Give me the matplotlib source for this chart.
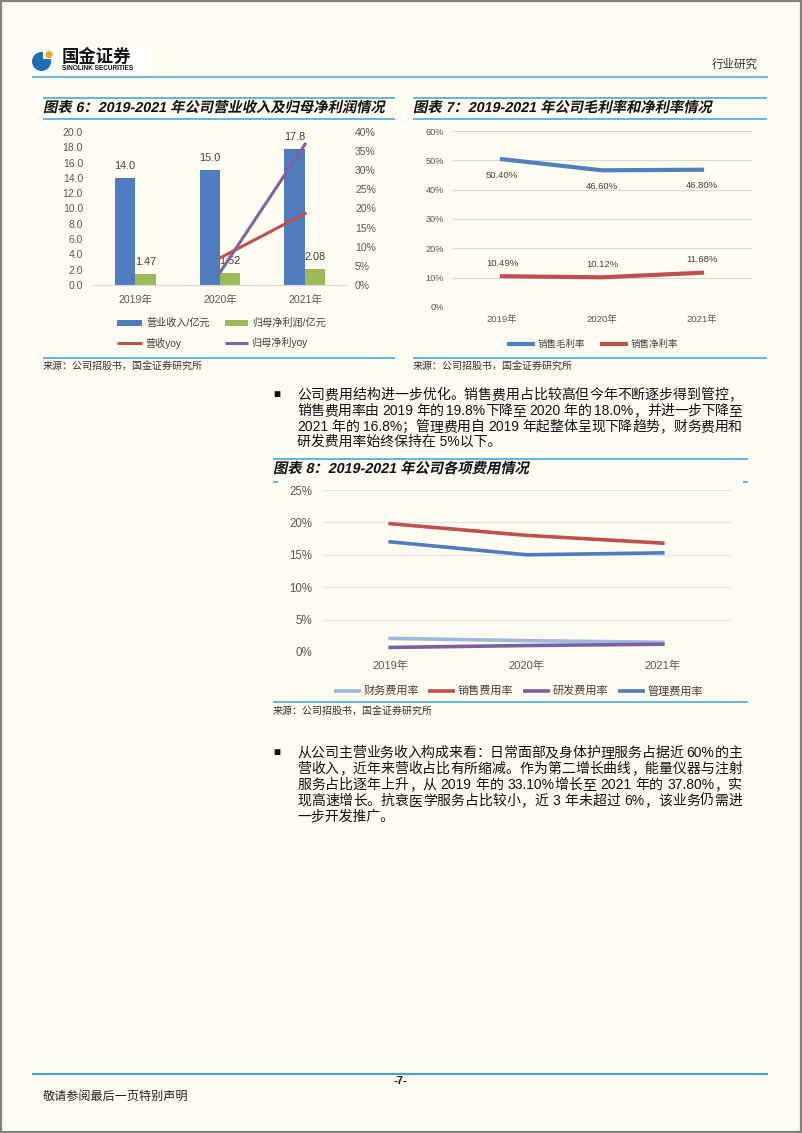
import re
import matplotlib
matplotlib.use('Agg')
import matplotlib.pyplot as plt
import numpy as np
from matplotlib.patches import Rectangle, Circle, PathPatch
from matplotlib.textpath import TextPath
from matplotlib.font_manager import FontProperties
from matplotlib.transforms import Affine2D

plt.rcParams['font.family'] = ['Liberation Sans', 'Noto Sans CJK SC']

W, H = 802, 1133
BG = '#FEFBF0'
BLUE = '#4F7CBE'
GREEN = '#9BBB59'
RED = '#C0504D'
PURPLE = '#7F63A1'
LIGHTBLUE = '#9DB7DD'
RULE = '#55B0DC'
TICK = '#595959'

# ---- data ----
years = ['2019年', '2020年', '2021年']
revenue = [14.0, 15.0, 17.8]          # 营业收入/亿元
net_profit = [1.47, 1.52, 2.08]       # 归母净利润/亿元
yoy_years = [1, 2]                    # 2020, 2021
revenue_yoy = [7.1, 18.7]             # %
profit_yoy = [3.4, 36.8]              # %

gross_margin = [50.40, 46.60, 46.80]  # 销售毛利率 %
net_margin = [10.49, 10.12, 11.68]    # 销售净利率 %

fin_rate = [2.1, 1.75, 1.5]           # 财务费用率 %
sales_rate = [19.8, 18.0, 16.8]       # 销售费用率 %
rd_rate = [0.7, 1.0, 1.2]             # 研发费用率 %
admin_rate = [17.0, 15.0, 15.3]       # 管理费用率 %

para1 = ['公司费用结构进一步优化。销售费用占比较高但今年不断逐步得到管控，',
         '销售费用率由 2019 年的 19.8%下降至 2020 年的 18.0%，并进一步下降至',
         '2021 年的 16.8%；管理费用自 2019 年起整体呈现下降趋势，财务费用和',
         '研发费用率始终保持在 5%以下。']
para2 = ['从公司主营业务收入构成来看：日常面部及身体护理服务占据近 60%的主',
         '营收入，近年来营收占比有所缩减。作为第二增长曲线，能量仪器与注射',
         '服务占比逐年上升，从 2019 年的 33.10%增长至 2021 年的 37.80%，实',
         '现高速增长。抗衰医学服务占比较小，近 3 年未超过 6%，该业务仍需进',
         '一步开发推广。']
source = '来源：公司招股书，国金证券研究所'

fig = plt.figure(figsize=(W / 100, H / 100), dpi=100)
fig.patch.set_facecolor(BG)

# overlay in pixel coordinates for page decoration
ov = fig.add_axes([0, 0, 1, 1])
ov.set_xlim(0, W)
ov.set_ylim(H, 0)
ov.axis('off')


def add_ax(left, top, right, bottom):
    a = fig.add_axes([left / W, 1 - bottom / H, (right - left) / W, (bottom - top) / H])
    a.set_facecolor('none')
    return a


def hline(x0, x1, y, color=RULE, lw=1.3):
    ov.plot([x0, x1], [y, y], color=color, lw=lw, solid_capstyle='butt')


def slanted_title(x, y, s):
    prop = FontProperties(family=['Liberation Sans', 'Noto Sans CJK SC'], weight='bold')
    tp = TextPath((0, 0), s, size=14.3, prop=prop)
    tr = Affine2D().skew_deg(12, 0).scale(1, -1).translate(x, y)
    ov.add_patch(PathPatch(tr.transform_path(tp), fc='#111111', lw=0))


def justified(lines, x0, x1, ys, size):
    r = fig.canvas.get_renderer()
    for k, (s, y) in enumerate(zip(lines, ys)):
        if k == len(lines) - 1:
            ov.text(x0, y, s, fontsize=size, va='center', ha='left', color='#111111')
            continue
        toks = re.findall(r'[A-Za-z0-9.%\-]+| |[^\x00-\x7f]', s)
        items = []
        for t in toks:
            if t == ' ':
                items.append((None, 0.278 * size * 100 / 72))
            else:
                txt = ov.text(0, y, t, fontsize=size, va='center', ha='left', color='#111111')
                items.append((txt, txt.get_window_extent(r).width))
        natural = sum(w for _, w in items)
        gap = (x1 - x0 - natural) / (len(items) - 1)
        pos = x0
        for txt, w in items:
            if txt is not None:
                txt.set_x(pos)
            pos += w + gap


def legend_line(x, y, color, label, size, lw, length=27):
    ov.plot([x, x + length], [y, y], color=color, lw=lw, solid_capstyle='butt')
    ov.text(x + length + 3, y, label, fontsize=size, va='center', ha='left', color='#404040')


# page border
ov.add_patch(Rectangle((0.8, 0.8), W - 1.8, H - 2.0, fill=False, ec='#808080', lw=1.6))

# header
ov.add_patch(Rectangle((32, 47), 116, 27, fc='white', ec='none'))
ov.add_patch(Circle((41.5, 61.5), 9.5, fc='#1F6FB5', ec='none'))
ov.add_patch(Rectangle((43, 49), 10, 10, fc='white', ec='none'))
ov.add_patch(Circle((49, 54.5), 3.6, fc='#F2A42A', ec='none'))
ov.text(62, 56, '国金证券', fontsize=12.5, fontweight='bold', va='center', ha='left', color='#111111')
ov.text(62, 69, 'SINOLINK SECURITIES', fontsize=4.7, fontweight='bold', va='center', ha='left', color='#111111')
ov.text(758, 65, '行业研究', fontsize=8.3, va='center', ha='right', color='#333333')
hline(32, 768, 77, color='#74BAD5', lw=1.6)

# title boxes for charts 6 and 7
for x0, x1 in [(43, 395), (413, 767)]:
    hline(x0, x1, 98)
    hline(x0, x1, 119)
    hline(x0, x1, 358)
    ov.text(x0, 367, source, fontsize=7.2, va='center', ha='left', color='#333333')
slanted_title(43, 112, '图表 6：2019-2021 年公司营业收入及归母净利润情况')
slanted_title(413, 112, '图表 7：2019-2021 年公司毛利率和净利率情况')

# ---- chart 6 ----
x = np.arange(len(years))
ax6 = add_ax(93, 132, 347.5, 285)
ax6.bar(x - 0.124, revenue, width=0.24, color=BLUE, zorder=2)
ax6.bar(x + 0.118, net_profit, width=0.24, color=GREEN, zorder=2)
for i, v in enumerate(revenue):
    ax6.annotate(f'{v:.1f}', (i - 0.124, v), xytext=(0, 12), textcoords='offset pixels',
                 ha='center', va='center', fontsize=7.8, color='#404040')
for i, v in enumerate(net_profit):
    ax6.annotate(f'{v:.2f}', (i + 0.118, v), xytext=(0, 12), textcoords='offset pixels',
                 ha='center', va='center', fontsize=7.8, color='#404040')
ax6.set_xlim(-0.5, 2.5)
ax6.set_ylim(0, 20)
ax6.set_yticks(np.arange(0, 21, 2))
ax6.set_yticklabels([f'{v:.1f}' for v in np.arange(0, 21, 2)])
ax6.set_xticks(x)
ax6.set_xticklabels(years)
for s in ['top', 'left', 'right']:
    ax6.spines[s].set_visible(False)
ax6.spines['bottom'].set_color('#D9D9D9')
ax6.tick_params(axis='y', length=0, pad=7.2, labelsize=7.5, labelcolor=TICK)
ax6.tick_params(axis='x', length=0, pad=7, labelsize=7.6, labelcolor=TICK)

ax6b = ax6.twinx()
ax6b.set_facecolor('none')
ax6b.plot(yoy_years, revenue_yoy, color=RED, lw=2.2)
ax6b.plot(yoy_years, profit_yoy, color=PURPLE, lw=2.2)
ax6b.set_ylim(0, 40)
ax6b.set_yticks(np.arange(0, 41, 5))
ax6b.set_yticklabels([f'{v}%' for v in range(0, 41, 5)])
for s in ax6b.spines.values():
    s.set_visible(False)
ax6b.tick_params(axis='y', length=0, pad=5.4, labelsize=7.5, labelcolor=TICK)

ov.add_patch(Rectangle((117, 320), 25, 6, fc=BLUE, ec='none'))
ov.text(146, 323, '营业收入/亿元', fontsize=7.3, va='center', ha='left', color='#404040')
ov.add_patch(Rectangle((225, 320), 23, 6, fc=GREEN, ec='none'))
ov.text(252, 323, '归母净利润/亿元', fontsize=7.3, va='center', ha='left', color='#404040')
legend_line(117, 343, RED, '营收yoy', 7.3, 2.2, length=25)
legend_line(225, 343, PURPLE, '归母净利yoy', 7.3, 2.2, length=23)

# ---- chart 7 ----
ax7 = add_ax(452, 131, 752, 307)
ax7.plot(x, gross_margin, color='#4F81BD', lw=3, zorder=3)
ax7.plot(x, net_margin, color=RED, lw=3, zorder=3)
for i, v in enumerate(gross_margin):
    ax7.annotate(f'{v:.2f}%', (i, v), xytext=(0, -16), textcoords='offset pixels',
                 ha='center', va='center', fontsize=6.8, color='#404040')
for i, v in enumerate(net_margin):
    ax7.annotate(f'{v:.2f}%', (i, v), xytext=(0, 13), textcoords='offset pixels',
                 ha='center', va='center', fontsize=6.8, color='#404040')
ax7.set_xlim(-0.5, 2.5)
ax7.set_ylim(0, 60)
ax7.set_yticks(np.arange(0, 61, 10))
ax7.set_yticklabels([f'{v}%' for v in range(0, 61, 10)])
ax7.set_xticks(x)
ax7.set_xticklabels(years)
ax7.grid(axis='y', color='#D9D9D9', lw=0.8)
for s in ax7.spines.values():
    s.set_visible(False)
ax7.tick_params(axis='y', length=0, pad=5.8, labelsize=6.6, labelcolor=TICK)
ax7.tick_params(axis='x', length=0, pad=6, labelsize=6.8, labelcolor=TICK)

legend_line(507, 344, '#4F81BD', '销售毛利率', 6.8, 3, length=28)
legend_line(600, 344, RED, '销售净利率', 6.8, 3, length=28)

# ---- paragraph 1 ----
ov.text(277, 395, '■', fontsize=8.5, va='center', ha='center', color='#111111')
justified(para1, 297, 742, [395, 411, 427, 442], 10)

# ---- chart 8 ----
hline(273, 748, 459)
slanted_title(273, 473, '图表 8：2019-2021 年公司各项费用情况')
hline(273, 278, 482)
hline(743, 748, 482)
hline(273, 748, 702)
ov.text(273, 712, source, fontsize=7.2, va='center', ha='left', color='#333333')

ax8 = add_ax(322, 490, 731, 652)
ax8.plot(x, fin_rate, color=LIGHTBLUE, lw=2.6)
ax8.plot(x, sales_rate, color=RED, lw=2.6)
ax8.plot(x, rd_rate, color='#7B5FA0', lw=2.6)
ax8.plot(x, admin_rate, color=BLUE, lw=2.6)
ax8.set_xlim(-0.5, 2.5)
ax8.set_ylim(0, 25)
ax8.set_yticks(np.arange(0, 26, 5))
ax8.set_yticklabels([f'{v}%' for v in range(0, 26, 5)])
ax8.set_xticks(x)
ax8.set_xticklabels(years)
ax8.grid(axis='y', color='#E3E3E3', lw=0.8)
ax8.set_axisbelow(True)
for s in ax8.spines.values():
    s.set_visible(False)
ax8.tick_params(axis='y', length=0, pad=7.2, labelsize=8.3, labelcolor=TICK)
ax8.tick_params(axis='x', length=0, pad=6.5, labelsize=8, labelcolor=TICK)

legend_line(334, 691, LIGHTBLUE, '财务费用率', 8, 2.6)
legend_line(428, 691, RED, '销售费用率', 8, 2.6)
legend_line(523, 691, '#7B5FA0', '研发费用率', 8, 2.6)
legend_line(618, 691, BLUE, '管理费用率', 8, 2.6)

# ---- paragraph 2 ----
ov.text(277, 753, '■', fontsize=8.5, va='center', ha='center', color='#111111')
justified(para2, 297, 742, [753, 769, 785, 801, 817], 10)

# ---- footer ----
hline(32, 768, 1074, color='#3DA5DC', lw=1.5)
ov.text(400, 1081, '-7-', fontsize=8, fontweight='bold', va='center', ha='center', color='#111111')
ov.text(43, 1097, '敬请参阅最后一页特别声明', fontsize=8.7, va='center', ha='left', color='#222222')

fig.savefig('out.png', dpi=100, facecolor=BG)
